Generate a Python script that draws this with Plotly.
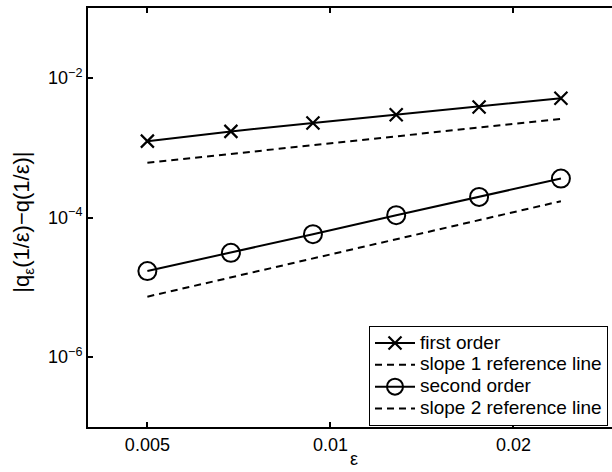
import numpy as np
import plotly.graph_objects as go

# ---- data ----
eps = [0.005, 0.00686, 0.00936, 0.01283, 0.01756, 0.02394]
first_order = [1.24e-3, 1.71e-3, 2.25e-3, 2.96e-3, 3.83e-3, 5.11e-3]
second_order = [1.71e-5, 3.12e-5, 5.77e-5, 1.08e-4, 1.97e-4, 3.61e-4]
ref_x = [0.005, 0.02394]
slope1_ref = [6.07e-4, 2.59e-3]
slope2_ref = [7.35e-6, 1.71e-4]

series_names = ["first order", "slope 1 reference line",
                "second order", "slope 2 reference line"]

x_ticks = [0.005, 0.01, 0.02]
x_ticktext = ["0.005", "0.01", "0.02"]
y_ticks = [1e-6, 1e-4, 1e-2]
y_ticktext = ["10<sup>\u22126</sup>", "10<sup>\u22124</sup>", "10<sup>\u22122</sup>"]

FONT = "Liberation Sans, Arial, Helvetica, sans-serif"
FS = 18


def leg(name):
    return '<span style="font-size:19px">' + name + "</span>"


fig = go.Figure()
fig.add_trace(go.Scatter(
    x=eps, y=first_order, mode="lines+markers", name=leg(series_names[0]),
    line=dict(color="black", width=2),
    marker=dict(symbol="x-thin", size=13, color="black",
                line=dict(color="black", width=2.2)),
))
fig.add_trace(go.Scatter(
    x=ref_x, y=slope1_ref, mode="lines", name=leg(series_names[1]),
    line=dict(color="black", width=2, dash="7px,5px"),
))
fig.add_trace(go.Scatter(
    x=eps, y=second_order, mode="lines+markers", name=leg(series_names[2]),
    line=dict(color="black", width=2),
    marker=dict(symbol="circle-open", size=18, color="black",
                line=dict(color="black", width=2)),
))
fig.add_trace(go.Scatter(
    x=ref_x, y=slope2_ref, mode="lines", name=leg(series_names[3]),
    line=dict(color="black", width=2, dash="7px,5px"),
))

fig.update_layout(
    width=612, height=472,
    margin=dict(l=88, r=0, t=8, b=45, autoexpand=False),
    paper_bgcolor="white", plot_bgcolor="white",
    font=dict(family=FONT, size=FS, color="black"),
    showlegend=True,
    legend=dict(
        x=(369 - 88) / 524, y=(427 - 326) / 419,
        xanchor="left", yanchor="top",
        bgcolor="white", bordercolor="black", borderwidth=1,
        font=dict(family=FONT, size=14.5, color="black"),
        itemwidth=40, tracegroupgap=0,
    ),
    xaxis=dict(
        type="log",
        range=[np.log10(0.003993), np.log10(0.003993) + 524 / 608],
        tickvals=x_ticks, ticktext=x_ticktext,
        ticks="inside", ticklen=5, tickwidth=1.5, tickcolor="black",
        showline=True, linewidth=2, linecolor="black", mirror="ticks",
        showgrid=False, zeroline=False,
        tickfont=dict(family=FONT, size=FS, color="black"),
    ),
    yaxis=dict(
        type="log",
        range=[-7, -1],
        tickvals=y_ticks, ticktext=y_ticktext,
        ticks="inside", ticklen=5, tickwidth=1.5, tickcolor="black",
        showline=True, linewidth=2, linecolor="black", mirror=False,
        showgrid=False, zeroline=False,
        tickfont=dict(family=FONT, size=FS, color="black"),
    ),
    annotations=[
        dict(text="|q<sub>\u03b5</sub>(1/\u03b5)\u2212q(1/\u03b5)|",
             xref="paper", yref="paper",
             x=(23 - 88) / 524, y=(427.3 - 223) / 419,
             xanchor="center", yanchor="middle", textangle=-90,
             showarrow=False, font=dict(family=FONT, size=22, color="black")),
        dict(text="\u03b5", xref="paper", yref="paper",
             x=(354 - 88) / 524, y=(427.3 - 459) / 419,
             xanchor="center", yanchor="middle",
             showarrow=False, font=dict(family=FONT, size=FS, color="black")),
    ],
)

fig.write_html("out.html",
               config={"displayModeBar": False},
               post_script="document.body.style.margin='0';document.body.style.overflow='hidden';")
